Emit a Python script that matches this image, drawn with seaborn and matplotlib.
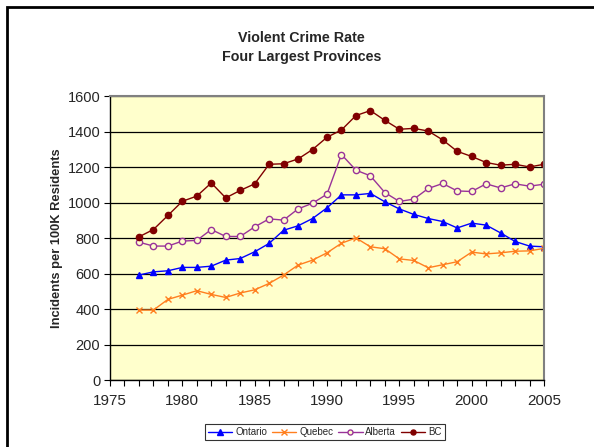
import numpy as np
import pandas as pd
import matplotlib
matplotlib.use("Agg")
import matplotlib.pyplot as plt
import matplotlib.patches as patches
from matplotlib.ticker import MultipleLocator
import seaborn as sns

# data
years = list(range(1977, 2006))
ontario = [593, 611, 617, 636, 636, 643, 677, 686, 724, 771, 845, 870, 911, 971,
           1044, 1044, 1052, 1005, 965, 934, 911, 894, 858, 885, 874, 830, 782, 756, 752]
quebec = [396, 396, 456, 480, 505, 484, 467, 492, 510, 546, 593, 649, 677, 718,
          772, 802, 752, 741, 684, 675, 634, 651, 668, 722, 712, 718, 727, 729, 743]
alberta = [778, 756, 756, 784, 788, 849, 810, 810, 864, 909, 902, 965, 997, 1048,
           1271, 1183, 1151, 1057, 1007, 1020, 1080, 1108, 1066, 1063, 1106, 1083, 1106, 1093, 1104]
bc = [808, 849, 928, 1008, 1037, 1111, 1027, 1069, 1106, 1216, 1219, 1246, 1299, 1368,
      1409, 1490, 1518, 1463, 1413, 1418, 1403, 1353, 1289, 1260, 1226, 1211, 1216, 1201, 1216]

df = pd.DataFrame({"Year": years, "Ontario": ontario, "Quebec": quebec,
                   "Alberta": alberta, "BC": bc})
long = df.melt(id_vars="Year", var_name="Province", value_name="Rate")

sns.set_theme(style="white")
plt.rcParams["font.family"] = ["Liberation Sans", "DejaVu Sans"]

fig = plt.figure(figsize=(5.94, 4.47), dpi=100)
ax = fig.add_axes([0.1852, 0.1488, 0.7306, 0.6364])
ax.set_facecolor("#FFFFCC")

styles = {
    "Ontario": dict(color="#0000FF", marker="^", mfc="#0000FF", mec="#0000FF", ms=5),
    "Quebec": dict(color="#FF7F1F", marker="x", mfc="none", mec="#FF7F1F", ms=5),
    "Alberta": dict(color="#993399", marker="o", mfc="#FFFFCC", mec="#993399", ms=4.5),
    "BC": dict(color="#800000", marker="o", mfc="#800000", mec="#800000", ms=4.5),
}
for name, st in styles.items():
    sub = long[long["Province"] == name]
    sns.lineplot(data=sub, x="Year", y="Rate", ax=ax, color=st["color"], lw=1,
                 marker=st["marker"], markerfacecolor=st["mfc"], markeredgecolor=st["mec"],
                 markersize=st["ms"], markeredgewidth=1, label=name)

ax.set_xlim(1975, 2005)
ax.set_ylim(0, 1600)
ax.xaxis.set_major_locator(MultipleLocator(5))
ax.xaxis.set_minor_locator(MultipleLocator(1))
ax.yaxis.set_major_locator(MultipleLocator(200))
ax.tick_params(axis="x", which="both", direction="out", length=4, width=0.8,
               color="black", bottom=True, labelsize=11, pad=6)
ax.tick_params(axis="y", which="major", direction="out", length=4, width=0.8,
               color="black", left=True, labelsize=10.5, pad=3)
ax.grid(axis="y", color="black", lw=0.9)
ax.set_axisbelow(True)
ax.set_xlabel("")
ax.set_ylabel("Incidents per 100K Residents", fontsize=9.3, fontweight="bold", labelpad=3)

for s in ["left", "bottom"]:
    ax.spines[s].set_color("black")
    ax.spines[s].set_linewidth(1)
for s in ["top", "right"]:
    ax.spines[s].set_color("#808080")
    ax.spines[s].set_linewidth(1.5)

fig.text(0.508, 0.893, "Violent Crime Rate\nFour Largest Provinces", ha="center",
         va="center", fontsize=10.3, fontweight="bold", linespacing=1.45)

leg = ax.legend(loc="center", bbox_to_anchor=(0.547, 0.0336), bbox_transform=fig.transFigure,
                ncol=4, fontsize=7, frameon=True, fancybox=False, handlelength=2.5,
                columnspacing=0.5, handletextpad=0.3, borderpad=0.3, markerscale=0.8)
leg.get_frame().set_edgecolor("black")
leg.get_frame().set_linewidth(0.8)

border = patches.Rectangle((7 / 594, -0.1), 1.2, 1 - 7 / 447 + 0.1, transform=fig.transFigure,
                           fill=False, edgecolor="black", lw=2, clip_on=False)
fig.patches.append(border)

fig.savefig("out.png", dpi=100, facecolor="white")
